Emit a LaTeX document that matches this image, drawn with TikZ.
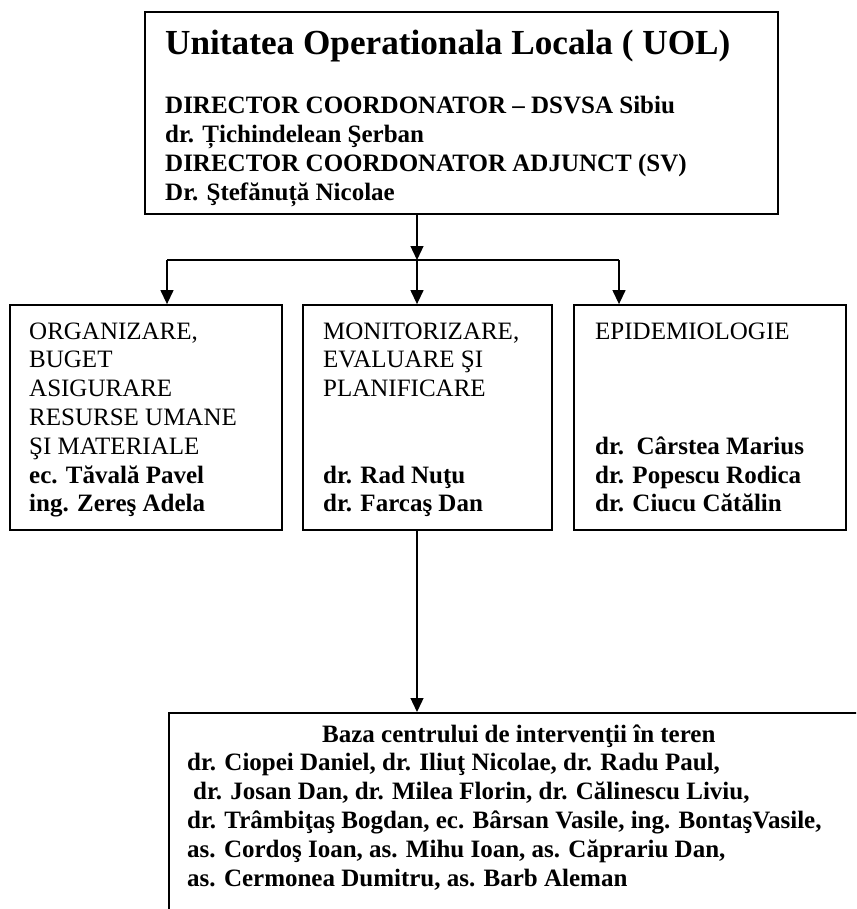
\documentclass[tikz,border=0pt]{standalone}
\usepackage{fontspec}
\setmainfont{Liberation Serif}
\usetikzlibrary{arrows.meta,calc}
\tikzset{
  boxstyle/.style={draw=black, line width=1.8pt, inner sep=0pt, fill=white},
  conn/.style={draw=black, line width=1.3pt},
  arr/.style={conn, -{Triangle[width=13pt,length=14pt]}},
  tl/.style={anchor=base west, inner sep=0pt, font=\fontsize{25}{28.8}\selectfont},
  tb/.style={tl, font=\fontsize{25}{28.8}\selectfont\bfseries},
  ttl/.style={anchor=base west, inner sep=0pt, font=\fontsize{35.2}{40}\selectfont\bfseries}
}
\begin{document}
\begin{tikzpicture}[x=1pt,y=-1pt]
\useasboundingbox[fill=white] (0,0) rectangle (856,909);
\clip (0,0) rectangle (856,909);

% boxes
\node[boxstyle, minimum width=633pt, minimum height=202pt] (top) at (461.5,113) {};
\node[boxstyle, minimum width=272pt, minimum height=225pt] (left) at (146,417.5) {};
\node[boxstyle, minimum width=249pt, minimum height=225pt] (mid) at (427.5,417.5) {};
\node[boxstyle, minimum width=272pt, minimum height=225pt] (right) at (710,417.5) {};
\node[boxstyle, minimum width=760pt, minimum height=260pt, anchor=north west] (base) at (168,712) {};

% connector positions
\coordinate (jn) at (417,260);
\coordinate (ja) at (167,260);
\coordinate (jc) at (619,260);

\draw[arr] (top.south -| jn) -- (jn);
\draw[conn] (ja) -- (jc);
\draw[arr] (ja) -- (ja |- left.north);
\draw[arr] (jn) -- (jn |- mid.north);
\draw[arr] (jc) -- (jc |- right.north);
\draw[arr] (mid.south -| jn) -- (jn |- base.north);

% top box text
\node[ttl] (title) at (165,55) {Unitatea Operationala Locala ( UOL)};
\node[tb] (d1) at (165,114) {DIRECTOR COORDONATOR – DSVSA Sibiu};
\node[tb] (d2) at (165,142.8) {dr. Țichindelean Şerban};
\node[tb] (d3) at (165,171.6) {DIRECTOR COORDONATOR ADJUNCT (SV)};
\node[tb] (d4) at (165,200.4) {Dr. Ştefănuță Nicolae};

% left box text
\node[tl] (a1) at (29,339) {ORGANIZARE,};
\node[tl] (a2) at (29,367.8) {BUGET};
\node[tl] (a3) at (29,396.6) {ASIGURARE};
\node[tl] (a4) at (29,425.4) {RESURSE UMANE};
\node[tl] (a5) at (29,454.2) {ŞI MATERIALE};
\node[tb] (a6) at (29,483) {ec. Tăvală Pavel};
\node[tb] (a7) at (29,511.8) {ing. Zereş Adela};

% middle box text
\node[tl] (b1) at (323,339) {MONITORIZARE,};
\node[tl] (b2) at (323,367.8) {EVALUARE ŞI};
\node[tl] (b3) at (323,396.6) {PLANIFICARE};
\node[tb] (b4) at (323,483) {dr. Rad Nuţu};
\node[tb] (b5) at (323,511.8) {dr. Farcaş Dan};

% right box text
\node[tl] (c1) at (595,339) {EPIDEMIOLOGIE};
\node[tb] (c2) at (595,454.2) {dr.\ \ Cârstea Marius};
\node[tb] (c3) at (595,483) {dr. Popescu Rodica};
\node[tb] (c4) at (595,511.8) {dr. Ciucu Cătălin};

% bottom box text
\node[tb] (e0) at (322,742) {Baza centrului de intervenţii în teren};
\node[tb] (e1) at (187,770.8) {dr. Ciopei Daniel, dr. Iliuţ Nicolae, dr. Radu Paul,};
\node[tb] (e2) at (193,799.6) {dr. Josan Dan, dr. Milea Florin, dr. Călinescu Liviu,};
\node[tb] (e3) at (187,828.4) {dr. Trâmbiţaş Bogdan, ec. Bârsan Vasile, ing. BontaşVasile,};
\node[tb] (e4) at (187,857.2) {as. Cordoş Ioan, as. Mihu Ioan, as. Căprariu Dan,};
\node[tb] (e5) at (187,886) {as. Cermonea Dumitru, as. Barb Aleman};
\end{tikzpicture}
\end{document}
